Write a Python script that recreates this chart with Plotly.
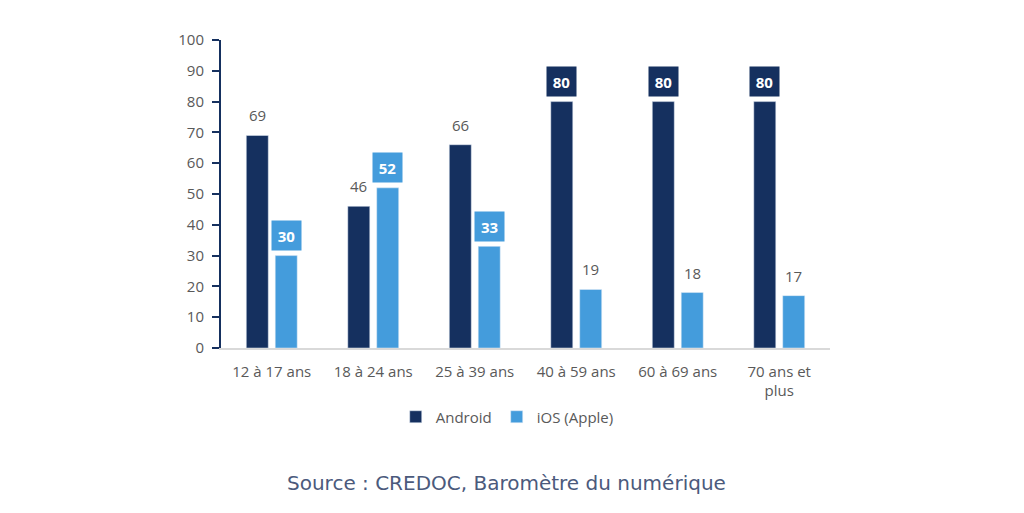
import plotly.graph_objects as go

categories = ["12 à 17 ans", "18 à 24 ans", "25 à 39 ans", "40 à 59 ans", "60 à 69 ans", "70 ans et plus"]
tick_labels = ["12 à 17 ans", "18 à 24 ans", "25 à 39 ans", "40 à 59 ans", "60 à 69 ans", "70 ans et<br>plus"]
android = [69, 46, 66, 80, 80, 80]
ios = [30, 52, 33, 19, 18, 17]
android_boxed = [False, False, False, True, True, True]
ios_boxed = [True, True, True, False, False, False]

NAVY = "#15305f"
BLUE = "#449cdc"
GRAY = "#595959"
FONT = "Open Sans"

fig = go.Figure()
fig.add_trace(go.Bar(name="Android", x=categories, y=android, marker_color=NAVY,
                     hoverinfo="skip"))
fig.add_trace(go.Bar(name="iOS (Apple)", x=categories, y=ios, marker_color=BLUE,
                     hoverinfo="skip"))

annotations = []
for vals, boxed, color, shift in [(android, android_boxed, NAVY, -14.5), (ios, ios_boxed, BLUE, 14.5)]:
    for c, v, b in zip(categories, vals, boxed):
        if b:
            annotations.append(dict(x=c, y=v, xref="x", yref="y", text=f"<b>{v}</b>",
                                    showarrow=False, xshift=shift, yshift=20, yanchor="middle",
                                    font=dict(family=FONT, size=15, color="white"),
                                    bgcolor=color, borderpad=5, width=19, height=19))
        else:
            annotations.append(dict(x=c, y=v, xref="x", yref="y", text=str(v),
                                    showarrow=False, xshift=shift, yshift=20, yanchor="middle",
                                    font=dict(family=FONT, size=15, color=GRAY)))

annotations.append(dict(x=0.468, y=(348 - 483) / 308, xref="paper", yref="paper",
                        text="Source : CREDOC, Baromètre du numérique",
                        showarrow=False, font=dict(family="DejaVu Sans", size=20, color="#4b5a7c"),
                        xanchor="center", yanchor="middle"))

fig.update_layout(
    width=1024, height=513,
    margin=dict(l=213, r=202, t=32, b=173),
    paper_bgcolor="white", plot_bgcolor="white",
    barmode="group", bargap=0.43, bargroupgap=0.24,
    font=dict(family=FONT, size=14, color=GRAY),
    showlegend=True,
    legend=dict(orientation="h", x=0.47, xanchor="center", y=-0.224, yanchor="middle",
                font=dict(family=FONT, size=15, color=GRAY), itemwidth=30, traceorder="normal"),
    annotations=annotations,
)

fig.update_xaxes(tickmode="array", tickvals=categories, ticktext=tick_labels,
                 showline=True, linecolor="#d9d9d9", linewidth=1.5, ticks="",
                 ticklabelstandoff=9,
                 tickfont=dict(family=FONT, size=15, color=GRAY), showgrid=False)
fig.update_yaxes(range=[0, 100], dtick=10, showline=True, linecolor=NAVY, linewidth=2,
                 ticks="outside", ticklen=7, tickcolor=NAVY, tickwidth=1.5, showgrid=False,
                 ticklabelstandoff=5,
                 zeroline=False, tickfont=dict(family=FONT, size=15, color=GRAY))

fig.write_html("out.html")
